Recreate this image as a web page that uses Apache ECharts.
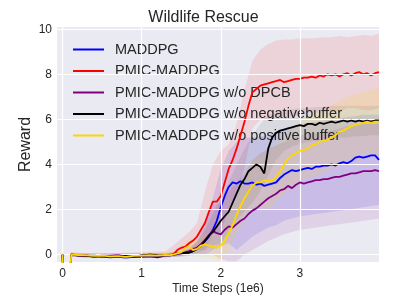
<!DOCTYPE html>
<html><head><meta charset="utf-8">
<script src="https://cdn.jsdelivr.net/npm/echarts@6/dist/echarts.min.js"></script>
<style>html,body{margin:0;padding:0;background:#fff}#c{width:407px;height:305px}</style>
</head><body><div id="c"></div>
<script>
var seriesNames = ['MADDPG','PMIC-MADDPG','PMIC-MADDPG w/o DPCB','PMIC-MADDPG w/o negativebuffer','PMIC-MADDPG w/o positive buffer'];
var xTicks = [0,1,2,3];
var yTicks = [0,2,4,6,8,10];
var steps = [0,0.02,0.08,0.11,0.2,0.3,0.4,0.5,0.6,0.7,0.8,0.9,1.0,1.1,1.2,1.3,
  1.35,1.4,1.45,1.5,1.55,1.6,1.65,1.7,1.75,1.8,1.85,1.9,1.95,2.0,2.05,2.1,2.15,2.2,2.25,2.3,2.35,2.4,2.45,2.5,
  2.55,2.6,2.65,2.7,2.75,2.8,2.85,2.9,2.95,3.0,3.05,3.1,3.15,3.2,3.25,3.3,3.35,3.4,3.45,3.5,
  3.55,3.6,3.65,3.7,3.75,3.8,3.85,3.9,3.95,4.0];
var maddpg = [0,-2,-2,0,-0.03,-0.05,-0.1,-0.08,-0.12,-0.1,-0.13,-0.1,-0.1,-0.08,-0.12,-0.05,
  -0.05,0.0,0.02,0.05,0.05,0.08,0.15,0.3,0.45,0.6,0.8,1.1,1.5,2.1,2.6,3.0,3.2,3.15,3.25,3.15,3.15,3.2,3.1,3.15,
  3.05,3.1,3.15,3.2,3.4,3.55,3.65,3.75,3.7,3.75,3.8,3.85,3.8,3.9,3.9,3.95,3.95,4.0,3.95,4.05,
  4.1,4.05,4.15,4.3,4.35,4.3,4.35,4.4,4.4,4.2];
var pmic = [0,-2,-2,0,-0.02,-0.05,-0.08,-0.06,-0.1,-0.05,-0.1,-0.08,-0.05,0.0,-0.02,-0.03,
  -0.02,0.0,0.2,0.3,0.35,0.5,0.62,0.8,1.1,1.4,1.9,2.35,2.35,2.6,3.2,3.8,4.2,4.7,5.3,5.9,6.6,7.2,7.35,7.5,
  7.55,7.6,7.65,7.7,7.75,7.65,7.7,7.75,7.8,7.8,7.85,7.85,7.9,7.85,7.95,7.9,8.0,7.95,8.0,7.9,
  8.0,8.05,7.95,8.05,8.1,8.0,8.05,7.95,8.05,8.1];
var noDpcb = [0,-2,-2,0,-0.05,-0.03,-0.08,-0.05,-0.05,-0.03,-0.08,-0.1,-0.05,-0.02,-0.06,-0.02,
  -0.02,0.0,0.02,0.05,0.1,0.15,0.25,0.3,0.45,0.65,0.85,1.05,0.95,0.9,1.1,1.25,1.2,1.35,1.5,1.6,1.8,1.95,2.05,2.2,
  2.35,2.5,2.6,2.7,2.85,2.9,3.05,2.95,3.1,3.2,3.15,3.2,3.25,3.3,3.3,3.35,3.35,3.4,3.45,3.45,
  3.5,3.55,3.6,3.6,3.65,3.7,3.7,3.7,3.75,3.7];
var noNeg = [0,-2,-2,0,-0.04,-0.06,-0.05,-0.08,-0.07,-0.08,-0.06,-0.09,-0.04,0.0,-0.03,-0.04,
  -0.03,0.0,0.05,0.05,0.08,0.1,0.15,0.25,0.4,0.6,0.85,1.0,1.25,1.5,1.7,1.9,2.3,2.7,3.1,3.35,3.7,3.85,4.0,3.9,
  3.6,4.7,5.2,5.4,5.5,5.55,5.6,5.65,5.7,5.75,5.7,5.8,5.8,5.75,5.85,5.8,5.85,5.9,5.85,5.9,
  5.95,5.9,5.95,5.9,5.95,5.9,5.95,5.9,5.95,5.95];
var noPos = [0,-2,-2,0,-0.02,-0.04,-0.06,-0.05,-0.08,-0.07,-0.1,-0.06,-0.05,-0.03,-0.05,-0.02,
  -0.03,0.0,0.05,0.1,0.3,0.35,0.2,0.25,0.4,0.45,0.4,0.35,0.3,0.4,0.6,0.95,1.3,1.75,2.15,2.5,2.8,3.05,3.2,3.2,
  3.3,3.25,3.3,3.45,3.7,4.0,4.25,4.4,4.5,4.6,4.65,4.7,4.85,4.9,5.0,5.05,5.1,5.2,5.3,5.45,
  5.5,5.6,5.7,5.75,5.8,5.85,5.9,5.85,5.9,5.9];
var bandSteps = [0.1,0.5,1.0,1.3,1.4,1.5,1.6,1.7,1.8,1.9,2.0,2.1,2.2,2.3,2.4,2.5,2.6,2.7,2.8,2.9,3.0,3.1,3.2,3.3,3.4,3.5,3.6,3.7,3.8,3.9,4.0];
var maddpgLow  = [-0.1,-0.15,-0.15,-0.15,-0.1,-0.1,-0.05,0.05,0.0,0.2,0.4,0.5,0.2,0.5,0.8,1.0,1.2,1.3,1.5,1.6,1.7,1.75,1.8,1.85,1.9,1.95,2.0,2.05,2.1,2.15,2.2];
var maddpgHigh = [0.05,0.0,0.05,0.05,0.1,0.15,0.25,0.6,1.2,2.5,3.8,4.6,5.0,5.2,5.2,5.25,5.3,5.45,5.6,5.7,5.8,5.85,5.9,5.95,6.0,6.05,6.1,6.15,6.2,6.2,6.2];
var pmicLow  = [-0.1,-0.15,-0.15,-0.1,-0.1,-0.05,0.0,0.2,0.2,0.9,1.0,2.0,2.8,3.8,5.6,6.0,6.0,6.1,6.1,6.1,6.2,6.3,6.3,6.3,6.4,6.3,6.5,6.5,6.4,6.4,6.5];
var pmicHigh = [0.1,0.05,0.1,0.15,0.4,0.7,1.0,1.4,2.8,4.0,4.6,4.9,5.8,7.3,8.6,9.1,9.35,9.5,9.55,9.55,9.6,9.6,9.6,9.65,9.65,9.7,9.65,9.7,9.75,9.7,9.8];
var noDpcbLow  = [-0.1,-0.15,-0.15,-0.1,-0.1,-0.05,0.0,0.05,0.0,0.0,-0.2,-0.3,-0.3,0.0,0.2,0.4,0.6,0.75,0.9,1.0,1.1,1.15,1.2,1.25,1.3,1.35,1.4,1.45,1.5,1.55,1.6];
var noDpcbHigh = [0.05,0.05,0.05,0.05,0.1,0.15,0.3,0.6,1.5,2.2,2.3,2.8,3.2,3.6,4.2,4.5,4.7,4.85,5.0,5.15,5.3,5.35,5.4,5.45,5.5,5.6,5.7,5.75,5.8,5.8,5.8];
var noNegLow  = [-0.1,-0.15,-0.15,-0.1,-0.1,-0.05,0.0,0.05,0.2,0.4,0.5,1.0,1.5,1.9,2.3,2.8,3.5,4.2,4.6,4.8,4.9,5.0,5.05,5.1,5.15,5.2,5.2,5.25,5.25,5.3,5.3];
var noNegHigh = [0.05,0.05,0.05,0.05,0.1,0.15,0.25,0.5,1.1,1.8,2.5,3.2,4.0,4.7,5.3,5.8,6.2,6.3,6.4,6.45,6.5,6.5,6.55,6.55,6.6,6.6,6.6,6.6,6.6,6.6,6.6];
var noPosLow  = [-0.1,-0.15,-0.15,-0.1,-0.1,-0.1,-0.05,-0.1,-0.1,-0.2,-0.3,0.2,1.0,1.5,2.0,2.1,2.0,2.3,2.7,3.0,3.3,3.4,3.5,3.65,3.8,4.0,4.2,4.35,4.5,4.45,4.4];
var noPosHigh = [0.05,0.05,0.05,0.1,0.15,0.4,0.7,0.7,0.9,0.9,0.9,2.0,2.8,3.6,4.2,4.4,4.6,4.9,5.3,5.6,5.9,6.1,6.3,6.45,6.6,6.8,7.0,7.1,7.2,7.3,7.4];

var lineColors = ['#0000ff','#ff0000','#800080','#000000','#ffd700'];
var bandColors = ['rgba(0,0,255,0.10)','rgba(255,0,0,0.10)','rgba(128,0,128,0.10)','rgba(0,0,0,0.07)','rgba(255,215,0,0.14)'];
var means = [maddpg,pmic,noDpcb,noNeg,noPos];
var lows = [maddpgLow,pmicLow,noDpcbLow,noNegLow,noPosLow];
var highs = [maddpgHigh,pmicHigh,noDpcbHigh,noNegHigh,noPosHigh];

var series = [];
series.push({
  name: 'grid-lines', type: 'line', data: [], z: 0.5, silent: true,
  markLine: {
    silent: true, symbol: ['none','none'], label: { show: false }, animation: false,
    lineStyle: { color: '#ffffff', width: 1.2, type: 'solid' },
    emphasis: { disabled: true },
    data: xTicks.map(function (v) { return { xAxis: v }; }).concat(yTicks.map(function (v) { return { yAxis: v }; }))
  }
});
function makeBand(i) {
  var color = bandColors[i];
  return {
    name: 'band-' + i, type: 'custom', silent: true, z: 1, clip: true,
    encode: { x: 0, y: [1, 2] },
    data: bandSteps.map(function (x, k) { return [x, lows[i][k], highs[i][k]]; }),
    renderItem: function (params, api) {
      if (params.dataIndex !== 0) return null;
      var pts = [];
      var n = bandSteps.length;
      for (var k = 0; k < n; k++) pts.push(api.coord([bandSteps[k], highs[i][k]]));
      for (var m = n - 1; m >= 0; m--) pts.push(api.coord([bandSteps[m], lows[i][m]]));
      return { type: 'polygon', shape: { points: pts }, style: { fill: color, stroke: null } };
    }
  };
}
for (var i = 0; i < 5; i++) series.push(makeBand(i));
for (var j = 0; j < 5; j++) {
  series.push({
    name: seriesNames[j], type: 'line', symbol: 'none', z: 3 + j,
    data: steps.map(function (x, k) { return [x, means[j][k]]; }),
    lineStyle: { color: lineColors[j], width: 1.8 }, itemStyle: { color: lineColors[j] }
  });
}

var chart = echarts.init(document.getElementById('c'), null, { renderer: 'canvas' });
var font = 'Liberation Sans, Arial, sans-serif';
chart.setOption({
  animation: false,
  backgroundColor: '#ffffff',
  title: { text: 'Wildlife Rescue', left: 'center', top: 5,
    textStyle: { fontFamily: font, fontSize: 16, fontWeight: 'normal', color: '#262626' } },
  grid: { left: 57, right: 28, top: 27, bottom: 43, show: true, backgroundColor: '#eaeaf2', borderWidth: 0 },
  legend: {
    data: seriesNames, orient: 'vertical', left: 68, top: 37, itemGap: 6.5,
    itemWidth: 31, itemHeight: 2, icon: 'rect',
    textStyle: { fontFamily: font, fontSize: 14.5, color: '#262626', padding: [0,0,0,6] }
  },
  xAxis: {
    type: 'value', min: -0.07, max: 4.0,
    name: 'Time Steps (1e6)', nameLocation: 'middle', nameGap: 20.5, nameMoveOverlap: false,
    nameTextStyle: { fontFamily: font, fontSize: 12, color: '#262626' },
    axisLine: { show: false }, axisTick: { show: false, customValues: xTicks },
    axisLabel: { customValues: xTicks, fontFamily: font, fontSize: 12, color: '#262626', margin: 6 },
    splitLine: { show: false }
  },
  yAxis: {
    type: 'value', min: -0.33, max: 10.1,
    name: 'Reward', nameLocation: 'middle', nameGap: 23, nameRotate: 90, nameMoveOverlap: false,
    nameTextStyle: { fontFamily: font, fontSize: 16, color: '#262626' },
    axisLine: { show: false }, axisTick: { show: false, customValues: yTicks },
    axisLabel: { customValues: yTicks, fontFamily: font, fontSize: 12, color: '#262626', margin: 5 },
    splitLine: { show: false }
  },
  series: series
});
</script></body></html>
